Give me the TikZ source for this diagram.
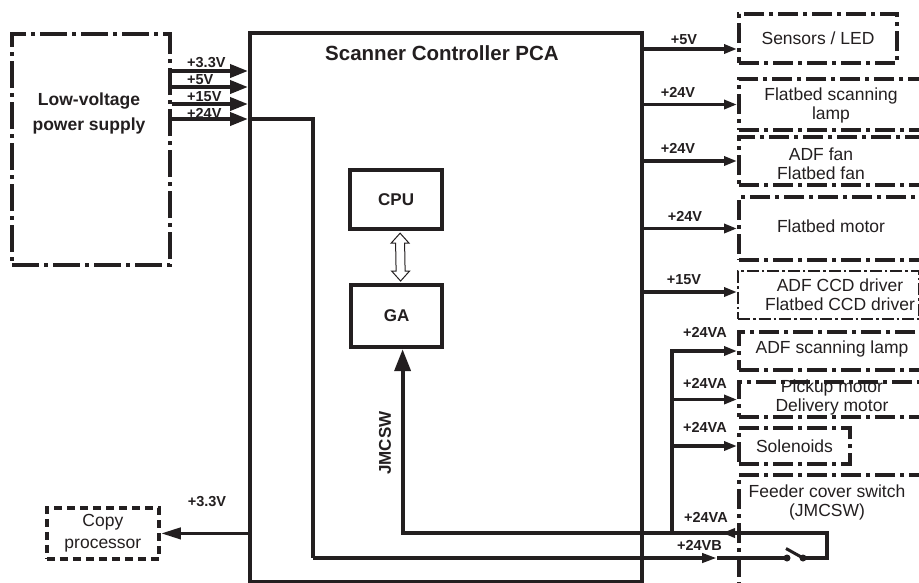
\documentclass[tikz,border=0pt]{standalone}
\usepackage{fontspec}
\setmainfont{Liberation Sans}
\usetikzlibrary{arrows.meta,calc}
\definecolor{ink}{RGB}{35,31,32}
\newcommand\vlabf{\fontsize{14.5}{16}\selectfont\bfseries}
\newcommand\btxf{\fontsize{17.5}{19}\selectfont}
\newcommand\cpf{\fontsize{17.5}{22}\selectfont}
\newcommand\psuf{\fontsize{17.5}{25}\selectfont\bfseries}
\newcommand\bbf{\fontsize{17}{20}\selectfont\bfseries}
\newcommand\ttlf{\fontsize{20.5}{24}\selectfont\bfseries}
\begin{document}
\begin{tikzpicture}[x=1pt,y=-1pt,
  wire/.style={draw=ink, line width=3.8pt},
  boxbase/.style={rectangle, inner sep=0pt, anchor=north west, text=ink},
  ddbox/.style={boxbase, draw=ink, line width=4pt, dash pattern=on 20pt off 5pt on 4pt off 5pt},
  psubox/.style={boxbase, draw=ink, line width=4pt, dash pattern=on 27pt off 5pt on 4pt off 5pt},
  thinbox/.style={boxbase, draw=ink, line width=2.2pt, dash pattern=on 12pt off 3pt on 2.5pt off 3pt},
  cpbox/.style={boxbase, draw=ink, line width=3.8pt, dash pattern=on 8pt off 5pt},
  solidbox/.style={boxbase, draw=ink, line width=4.2pt},
  btext/.style={font=\btxf, align=center, text=ink, inner sep=0pt},
  vl/.style={font=\vlabf, text=ink, inner sep=0pt},
  tipL/.style={-{Triangle[length=18pt,width=13pt]}},
  tipS/.style={-{Triangle[length=13pt,width=9pt]}},
  dotn/.style={circle, fill=ink, inner sep=0pt, minimum size=7pt}
]
\fill[white] (0,0) rectangle (919,582);
\useasboundingbox (0,0) rectangle (919,582);

% power supply
\node[psubox, minimum width=158pt, minimum height=231pt] (psu) at (10,32) {};
\node[btext, font=\psuf] (psut) at (89,113) {Low-voltage\\power supply};

% main PCA
\node[solidbox, minimum width=392pt, minimum height=549pt] (pca) at (248,31) {};
\node[text=ink, font=\ttlf, inner sep=0pt] (title) at (442,53) {Scanner Controller PCA};
\node[solidbox, font=\bbf, minimum width=92pt, minimum height=59pt] (cpu) at (348,168) {CPU};
\node[solidbox, font=\bbf, minimum width=91pt, minimum height=62pt] (ga) at (349,283) {GA};

% copy processor
\node[cpbox, font=\cpf, align=center, minimum width=112pt, minimum height=51pt] (copy) at (45,506) {Copy\\processor};

% right boxes
\node[ddbox, font=\btxf, minimum width=158pt, minimum height=49pt] (sens) at (737,12) {Sensors / LED};
\node[ddbox, minimum width=188pt, minimum height=51pt] (fsl) at (737,77) {};
\node[btext] (fslt) at (831,105) {Flatbed scanning\\lamp};
\node[ddbox, minimum width=188pt, minimum height=48pt] (fan) at (737,135) {};
\node[btext] (fant) at (821,164) {ADF fan\\Flatbed fan};
\node[ddbox, minimum width=188pt, minimum height=63pt] (mot) at (737,195) {};
\node[btext] (mott) at (831,226) {Flatbed motor};
\node[thinbox, minimum width=181pt, minimum height=48pt] (ccd) at (737,270) {};
\node[btext] (ccdt) at (840,294.5) {ADF CCD driver\\Flatbed CCD driver};
\node[ddbox, minimum width=188pt, minimum height=38pt] (adfl) at (737,330) {};
\node[btext] (adflt) at (832,349) {ADF scanning lamp};
\node[ddbox, minimum width=188pt, minimum height=35pt] (pick) at (737,380) {};
\node[btext] (pickt) at (832,397) {Pickup motor\\Delivery motor};
\node[ddbox, font=\btxf, minimum width=111pt, minimum height=36pt] (sol) at (737,426) {Solenoids};
\node[ddbox, minimum width=188pt, minimum height=120pt] (fcs) at (737,473) {};
\node[btext] (fcst) at (827,502) {Feeder cover switch\\(JMCSW)};

% PSU -> PCA
\draw[wire, tipL] (psu.east |- 0,71) -- (pca.west |- 0,71);
\draw[wire, tipL] (psu.east |- 0,87) -- (pca.west |- 0,87);
\draw[wire, tipL] (psu.east |- 0,104) -- (pca.west |- 0,104);
\draw[wire, tipL] (psu.east |- 0,119) -- (pca.west |- 0,119);
\node[vl, anchor=west] (l33) at (187,63) {+3.3V};
\node[vl, anchor=west] (l5) at (187,80) {+5V};
\node[vl, anchor=west] (l15) at (187,97) {+15V};
\node[vl, anchor=west] (l24) at (187,113) {+24V};

% PCA -> right boxes
\draw[wire, tipS] (pca.east |- 0,49) -- (sens.west |- 0,49);
\draw[wire, tipS] (pca.east |- fsl.west) -- (fsl.west);
\draw[wire, tipS] (pca.east |- fan.west) -- (fan.west);
\draw[wire, tipS] (pca.east |- mot.west) -- (mot.west);
\draw[wire, tipS] (pca.east |- 0,292) -- (ccd.west |- 0,292);
\node[vl] (r5) at (684,40) {+5V};
\node[vl] (r24a) at (678,92) {+24V};
\node[vl] (r24b) at (678,148) {+24V};
\node[vl] (r24c) at (685,216) {+24V};
\node[vl] (r15) at (684,280) {+15V};

% PCA -> copy processor
\draw[wire, -{Triangle[length=20pt,width=11pt]}] (pca.west |- copy.east) -- (copy.east);
\node[vl] (c33) at (207,502) {+3.3V};

% CPU <-> GA
\path (cpu.south) ++(4,2) coordinate (ta);
\path (ga.north) ++(4,-2) coordinate (tb);
\draw[draw=ink, line width=1pt, fill=white, line join=miter]
  (ta) -- ++(9,10) -- ++(-4.5,0) -- ($(tb)+(4.5,-10)$) -- ++(4.5,0) -- (tb)
  -- ++(-9,-10) -- ++(4.5,0) -- ($(ta)+(-4.5,10)$) -- ++(-4.5,0) -- cycle;

% switch
\node[dotn] (swa) at (787,558) {};
\node[dotn] (swb) at (803,558) {};
\draw[draw=ink, line width=3pt] (swb.center) -- ++(-17,-9.5);

% +24V to switch (+24VB)
\coordinate (bend) at (313,558);
\coordinate (vb) at (717,558);
\draw[wire] (pca.west |- 0,119) -| (bend);
\draw[wire, -{Triangle[length=15pt,width=9pt]}] (bend) -- (vb);
\draw[wire] (vb) -- (swa.center);
\node[vl, anchor=east] (l24vb) at (722,545) {+24VB};

% JMCSW return to GA
\coordinate (va) at (672,533);
\coordinate (gin) at ([xshift=6pt]ga.south);
\draw[wire, -{Triangle[length=22pt,width=16pt]}] (swb.center) -- ++(24,0) |- (gin |- va) -- (gin);
\node[font=\bbf, text=ink, rotate=90, inner sep=0pt] (jm) at (385,443) {JMCSW};

% +24VA branch
\draw[wire, tipS] (va) |- (adfl.west);
\draw[wire, tipS] (va |- pick.west) -- (pick.west);
\draw[wire, tipS] (va |- sol.west) -- (sol.west);
\draw[wire, -{Triangle[length=13pt,width=9pt]}] (fcs.west |- va) -- ++(-15,0);
\node[vl, anchor=east] (va1) at (727,332) {+24VA};
\node[vl, anchor=east] (va2) at (727,383) {+24VA};
\node[vl, anchor=east] (va3) at (727,427) {+24VA};
\node[vl, anchor=east] (va4) at (728,517) {+24VA};
\end{tikzpicture}
\end{document}
